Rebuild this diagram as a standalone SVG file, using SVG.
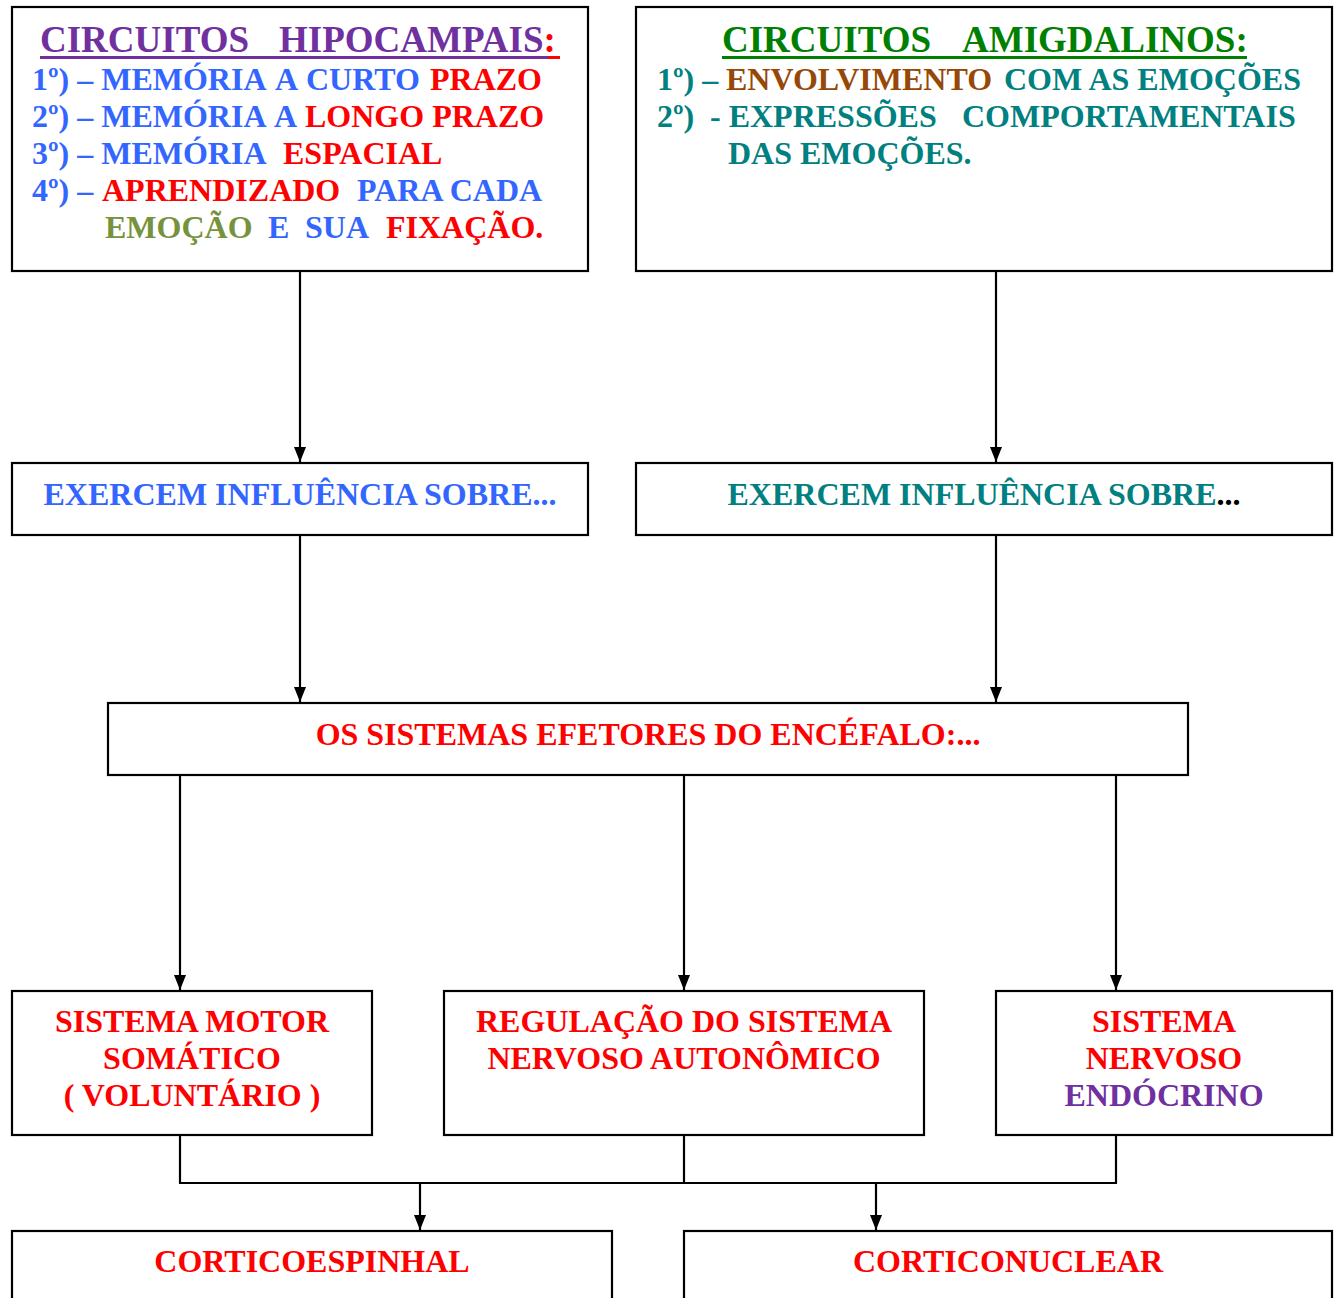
<svg xmlns="http://www.w3.org/2000/svg" width="1336" height="1298" viewBox="0 0 1336 1298">
  <style>
    .box { fill: #ffffff; stroke: #000000; stroke-width: 2.2; }
    .t { font-family: "Liberation Serif", "Times New Roman", serif; font-weight: bold; font-size: 32px; }
    .title { font-size: 37px; }
    .mid { text-anchor: middle; }
    .wire { stroke: #000000; stroke-width: 2.2; fill: none; }
    .arrow { stroke: #000000; stroke-width: 2.2; fill: none; marker-end: url(#head); }
    .purple { fill: #7030A0; }
    .blue { fill: #3366FF; }
    .red { fill: #FF0000; }
    .olive { fill: #76923C; }
    .green { fill: #008000; }
    .brown { fill: #984806; }
    .teal { fill: #008080; }
    .black { fill: #000000; }
  </style>
  <defs>
    <!-- filled triangular arrowhead, tip at the line end -->
    <marker id="head" viewBox="0 0 15 12" refX="15" refY="6" markerWidth="15" markerHeight="12" markerUnits="userSpaceOnUse" orient="auto">
      <path d="M0,0 L15,6 L0,12 Z" fill="#000000"/>
    </marker>
  </defs>

  <!-- connectors -->
  <g id="connectors">
    <line class="arrow" x1="300" y1="271" x2="300" y2="462"/>
    <line class="arrow" x1="996" y1="271" x2="996" y2="462"/>
    <line class="arrow" x1="300" y1="535" x2="300" y2="702"/>
    <line class="arrow" x1="996" y1="535" x2="996" y2="702"/>
    <line class="arrow" x1="180" y1="775" x2="180" y2="990"/>
    <line class="arrow" x1="684" y1="775" x2="684" y2="990"/>
    <line class="arrow" x1="1116" y1="775" x2="1116" y2="990"/>
    <line class="wire" x1="180" y1="1135" x2="180" y2="1183"/>
    <line class="wire" x1="684" y1="1135" x2="684" y2="1183"/>
    <line class="wire" x1="1116" y1="1135" x2="1116" y2="1183"/>
    <line class="wire" x1="179" y1="1183" x2="1117" y2="1183"/>
    <line class="arrow" x1="420" y1="1183" x2="420" y2="1230"/>
    <line class="arrow" x1="876" y1="1183" x2="876" y2="1230"/>
  </g>

  <!-- hippocampal circuits -->
  <g id="hipocampais">
    <rect class="box" x="12" y="7" width="576" height="264"/>
    <text class="t title purple" x="40" y="52">CIRCUITOS</text>
    <text class="t title" x="279" y="52"><tspan class="purple">HIPOCAMPAIS</tspan><tspan class="red">:</tspan></text>
    <line x1="40" y1="57.5" x2="548" y2="57.5" stroke="#7030A0" stroke-width="3"/>
    <line x1="548" y1="57.5" x2="560" y2="57.5" stroke="#FF0000" stroke-width="3"/>
    <text class="t" y="90"><tspan class="blue" x="32">1º) – MEMÓRIA</tspan><tspan class="blue" x="275">A</tspan><tspan class="blue" x="306">CURTO</tspan><tspan class="red" x="430">PRAZO</tspan></text>
    <text class="t" y="127"><tspan class="blue" x="32">2º) – MEMÓRIA</tspan><tspan class="blue" x="274">A</tspan><tspan class="red" x="305">LONGO PRAZO</tspan></text>
    <text class="t" y="164"><tspan class="blue" x="32">3º) – MEMÓRIA</tspan><tspan class="red" x="283">ESPACIAL</tspan></text>
    <text class="t" y="201"><tspan class="blue" x="32">4º) –</tspan><tspan class="red" x="102">APRENDIZADO</tspan><tspan class="blue" x="357">PARA CADA</tspan></text>
    <text class="t" y="238"><tspan class="olive" x="105">EMOÇÃO</tspan><tspan class="blue" x="268">E</tspan><tspan class="blue" x="305">SUA</tspan><tspan class="red" x="386">FIXAÇÃO.</tspan></text>
  </g>

  <!-- amygdaloid circuits -->
  <g id="amigdalinos">
    <rect class="box" x="636" y="7" width="696" height="264"/>
    <text class="t title green" x="722" y="52">CIRCUITOS</text>
    <text class="t title green" x="962" y="52">AMIGDALINOS:</text>
    <line x1="722" y1="57.5" x2="1247" y2="57.5" stroke="#008000" stroke-width="3"/>
    <text class="t" y="90"><tspan class="teal" x="657">1º) –</tspan><tspan class="brown" x="726">ENVOLVIMENTO</tspan><tspan class="teal" x="1004">COM AS EMOÇÕES</tspan></text>
    <text class="t" y="127"><tspan class="teal" x="657">2º)</tspan><tspan class="teal" x="710">- EXPRESSÕES</tspan><tspan class="teal" x="962">COMPORTAMENTAIS</tspan></text>
    <text class="t teal" x="728" y="164">DAS EMOÇÕES.</text>
  </g>

  <!-- influence boxes -->
  <g id="influencia-hipocampo">
    <rect class="box" x="12" y="463" width="576" height="72"/>
    <text class="t mid blue" x="300" y="505">EXERCEM INFLUÊNCIA SOBRE...</text>
  </g>
  <g id="influencia-amigdala">
    <rect class="box" x="636" y="463" width="696" height="72"/>
    <text class="t mid" x="984" y="505"><tspan class="teal">EXERCEM INFLUÊNCIA SOBRE</tspan><tspan class="black">...</tspan></text>
  </g>

  <!-- effector systems -->
  <g id="sistemas-efetores">
    <rect class="box" x="108" y="703" width="1080" height="72"/>
    <text class="t mid red" x="648" y="745">OS SISTEMAS EFETORES DO ENCÉFALO:...</text>
  </g>

  <g id="motor-somatico">
    <rect class="box" x="12" y="991" width="360" height="144"/>
    <text class="t mid red" x="192" y="1032">SISTEMA MOTOR</text>
    <text class="t mid red" x="192" y="1069">SOMÁTICO</text>
    <text class="t mid red" x="192" y="1106">( VOLUNTÁRIO )</text>
  </g>

  <g id="autonomico">
    <rect class="box" x="444" y="991" width="480" height="144"/>
    <text class="t mid red" x="684" y="1032">REGULAÇÃO DO SISTEMA</text>
    <text class="t mid red" x="684" y="1069">NERVOSO AUTONÔMICO</text>
  </g>

  <g id="endocrino">
    <rect class="box" x="996" y="991" width="336" height="144"/>
    <text class="t mid red" x="1164" y="1032">SISTEMA</text>
    <text class="t mid red" x="1164" y="1069">NERVOSO</text>
    <text class="t mid purple" x="1164" y="1106">ENDÓCRINO</text>
  </g>

  <!-- descending pathways -->
  <g id="corticoespinhal">
    <rect class="box" x="12" y="1231" width="600" height="80"/>
    <text class="t mid red" x="312" y="1272">CORTICOESPINHAL</text>
  </g>
  <g id="corticonuclear">
    <rect class="box" x="684" y="1231" width="648" height="80"/>
    <text class="t mid red" x="1008" y="1272">CORTICONUCLEAR</text>
  </g>
</svg>
